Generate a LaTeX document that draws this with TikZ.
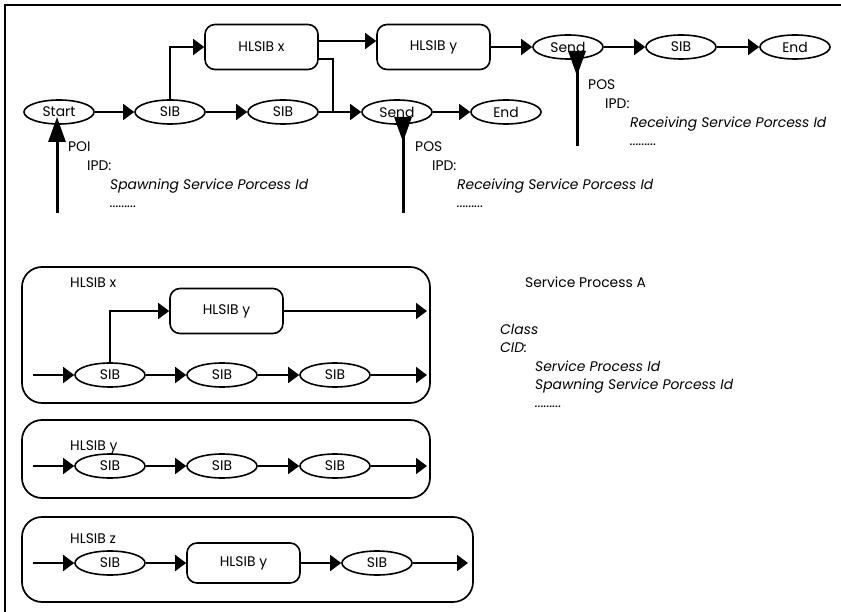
\documentclass[tikz,border=0pt]{standalone}
\usepackage{fontspec}
\setmainfont{Poppins}
\usetikzlibrary{arrows.meta}
\usetikzlibrary{shapes.geometric}
\newcommand{\sibfont}{\fontsize{13.9}{16}\selectfont}
\tikzset{sib/.style = {draw, ellipse, line width = 1.6pt, inner sep = 0, minimum width = 70, minimum height = 24}}
\tikzset{hlsib/.style = {draw, rectangle, rounded corners = 10pt, line width = 1.6pt, inner sep = 0, minimum width = 113, minimum height = 45}}
\tikzset{frame/.style = {draw, rectangle, rounded corners = 20pt, line width = 1.7pt, inner sep = 0}}
\tikzset{txt/.style = {anchor = base west, inner sep = 0}}
\tikzset{itxt/.style = {txt, font = \sibfont\itshape}}
\tikzset{wire/.style = {line width = 1.6pt}}
\tikzset{flow/.style = {wire, -{Triangle[length = 11pt, width = 16pt]}}}
\tikzset{bigup/.style = {line width = 3pt, -{Triangle[length = 25pt, width = 17pt]}}}
\tikzset{bigdown/.style = {line width = 3pt, -{Triangle[reversed, length = 25pt, width = 17pt]}}}

\begin{document}
\begin{tikzpicture}[x = 1pt, y = -1pt, font = \sibfont]
      \useasboundingbox (0, 0) rectangle (841, 612);
      \draw [line width = 1.7pt] (841, 5) -- (5, 5) -- (5, 612);

      \node [hlsib] (hlx) at (261.5, 47) {HLSIB x};
      \node [hlsib] (hly) at (433.5, 47) {HLSIB y};
      \node [sib] (sendA) at (568, 47) {Send};
      \node [sib] (sibC) at (681, 47) {SIB};
      \node [sib] (endB) at (795, 47) {End};
      \node [sib] (start) at (59, 112) {Start};
      \node [sib] (sibA) at (170, 112) {SIB};
      \node [sib] (sibB) at (283, 112) {SIB};
      \node [sib] (sendB) at (397, 112) {Send};
      \node [sib] (endA) at (506, 112) {End};
      \coordinate (join) at (333, 112);

      \draw [flow] (start) -- (sibA);
      \draw [flow] (sibA) -- (sibB);
      \draw [flow] (sibB) -- (sendB);
      \draw [flow] (sibA.north) |- (hlx.west);
      \draw [flow] ([yshift = 6pt]hlx.east) -- ([yshift = 6pt]hly.west);
      \draw [wire] ([yshift = -12pt]hlx.east) -| (join);
      \draw [flow] (hly) -- (sendA);
      \draw [flow] (sendA) -- (sibC);
      \draw [flow] (sibC) -- (endB);
      \draw [flow] (sendB) -- (endA);

      \coordinate (startfoot) at (57, 213);
      \coordinate (starttip) at ([yshift = -5pt]start.center);
      \draw [bigup] (startfoot) -- (startfoot |- starttip);
      \coordinate (sendBfoot) at (403, 213);
      \coordinate (sendBtip) at ([yshift = -5pt]sendB.center);
      \draw [bigdown] (sendBfoot) -- (sendBfoot |- sendBtip);
      \coordinate (sendAfoot) at (577, 146);
      \coordinate (sendAtip) at ([yshift = -4pt]sendA.center);
      \draw [bigdown] (sendAfoot) -- (sendAfoot |- sendAtip);

      \node [txt] (poiA) at (68, 152) {POI};
      \node [txt] (ipdA) at (87, 171) {IPD:};
      \node [itxt] (spawnA) at (110, 190) {Spawning Service Porcess Id};
      \node [itxt] (dotsA) at (110, 208) {.........};
      \node [txt] (posB) at (415, 152) {POS};
      \node [txt] (ipdB) at (432, 171) {IPD:};
      \node [itxt] (recvB) at (457, 190) {Receiving Service Porcess Id};
      \node [itxt] (dotsB) at (457, 208) {.........};
      \node [txt] (posC) at (588, 90) {POS};
      \node [txt] (ipdC) at (605, 109) {IPD:};
      \node [itxt] (recvC) at (630, 128) {Receiving Service Porcess Id};
      \node [itxt] (dotsC) at (630, 146) {.........};

      \node [frame, minimum width = 408, minimum height = 136] (boxX) at (226, 335) {};
      \node [txt] (labX) at (70, 288) {HLSIB x};
      \node [hlsib] (xhly) at (226.5, 311) {HLSIB y};
      \node [sib] (xsib1) at (110, 375) {SIB};
      \node [sib] (xsib2) at (222, 375) {SIB};
      \node [sib] (xsib3) at (335, 375) {SIB};
      \coordinate (xin) at (33, 375);
      \coordinate (xout) at (427, 375);
      \coordinate (xtop) at (427, 311);
      \draw [flow] (xin) -- (xsib1);
      \draw [flow] (xsib1) -- (xsib2);
      \draw [flow] (xsib2) -- (xsib3);
      \draw [flow] (xsib3) -- (xout);
      \draw [flow] (xsib1.north) |- (xhly.west);
      \draw [flow] (xhly) -- (xtop);

      \node [frame, minimum width = 408, minimum height = 78] (boxY) at (226, 459) {};
      \node [txt] (labY) at (70, 450) {HLSIB y};
      \node [sib] (ysib1) at (110, 466) {SIB};
      \node [sib] (ysib2) at (222, 466) {SIB};
      \node [sib] (ysib3) at (335, 466) {SIB};
      \coordinate (yin) at (33, 466);
      \coordinate (yout) at (427, 466);
      \draw [flow] (yin) -- (ysib1);
      \draw [flow] (ysib1) -- (ysib2);
      \draw [flow] (ysib2) -- (ysib3);
      \draw [flow] (ysib3) -- (yout);

      \node [frame, minimum width = 451, minimum height = 85] (boxZ) at (247.5, 559.5) {};
      \node [txt] (labZ) at (70, 543) {HLSIB z};
      \node [sib] (zsib1) at (110, 563) {SIB};
      \node [hlsib, minimum height = 40] (zhly) at (243.5, 563) {HLSIB y};
      \node [sib] (zsib2) at (377, 563) {SIB};
      \coordinate (zin) at (33, 563);
      \coordinate (zout) at (468, 563);
      \draw [flow] (zin) -- (zsib1);
      \draw [flow] (zsib1) -- (zhly);
      \draw [flow] (zhly) -- (zsib2);
      \draw [flow] (zsib2) -- (zout);

      \node [txt] (procA) at (525, 288) {Service Process A};
      \node [itxt] (classA) at (500, 335) {Class};
      \node [itxt] (cidA) at (500, 353) {CID:};
      \node [itxt] (spidA) at (535, 371) {Service Process Id};
      \node [itxt] (spawnB) at (535, 389) {Spawning Service Porcess Id};
      \node [itxt] (dotsD) at (535, 407) {.........};
\end{tikzpicture}
\end{document}
